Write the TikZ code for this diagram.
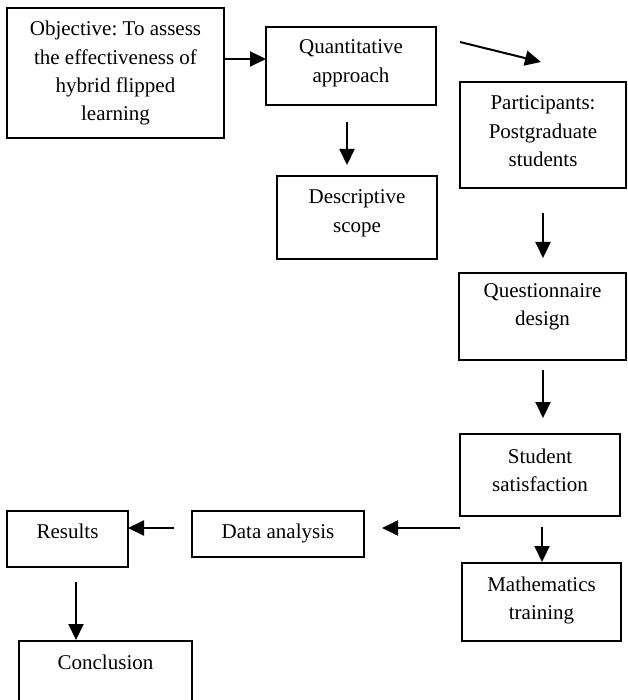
\documentclass[tikz,border=0pt]{standalone}
\usepackage{fontspec}
\setmainfont{Liberation Serif}
\usetikzlibrary{arrows.meta}
\frenchspacing

% box text: [first baseline]{width}{height}{lines}
\newcommand{\stg}[4][28pt]{\parbox[c][#3][t]{#2}{\fontsize{21}{28.3}\selectfont\centering\rule{0pt}{#1}#4}}

\tikzstyle{stage}=[draw,line width=1.2pt,inner sep=0pt,outer sep=0pt]
\tikzstyle{arrow}=[draw,line width=2pt,-{Triangle[length=16pt,width=15pt]}]

\begin{document}
\begin{tikzpicture}[x=1pt,y=-1pt]
	\useasboundingbox (0,0) rectangle (627,700);
			\node[stage] (obj) at (115.5,73) {\stg{217pt}{130pt}{Objective: To assess\\the effectiveness of\\hybrid flipped\\learning}};
			\node[stage] (quant) at (351,66) {\stg[27pt]{170pt}{78pt}{Quantitative\\approach}};
			\node[stage] (part) at (543,135) {\stg{166pt}{106pt}{Participants:\\Postgraduate\\students}};
			\node[stage] (desc) at (357,217.5) {\stg{160pt}{83pt}{Descriptive\\scope}};
			\node[stage] (quest) at (542.5,316.5) {\stg[24pt]{167pt}{87pt}{Questionnaire\\design}};
			\node[stage] (stud) at (540,475) {\stg[29pt]{160pt}{82pt}{Student\\satisfaction}};
			\node[stage] (math) at (541.5,602) {\stg{159pt}{78pt}{Mathematics\\training}};
			\node[stage] (data) at (278,534) {\stg[27pt]{172pt}{46pt}{Data analysis}};
			\node[stage] (res) at (67.5,539) {\stg[27pt]{121pt}{56pt}{Results}};
			\node[stage] (conc) at (105.5,676.5) {\stg{173pt}{71pt}{Conclusion}};
			% loose arrow towards the participants
			\coordinate (qa) at (460,42);
			\coordinate (qb) at (541,62);
			% Connect the boxes with arrows
			\path[arrow] ([yshift=14pt]obj.east) -- ([yshift=7pt]quant.west);
			\path[arrow] (qa) -- (qb);
			\path[arrow,shorten <=17pt,shorten >=11pt] ([xshift=-4pt]quant.south) -- ([xshift=-10pt]desc.north);
			\path[arrow,shorten <=25pt,shorten >=15pt] (part.south) -- ([xshift=0.5pt]quest.north);
			\path[arrow,shorten <=10pt,shorten >=16pt] ([xshift=0.5pt]quest.south) -- ([xshift=3pt]stud.north);
			\path[arrow,shorten <=11pt,shorten >=1pt] ([xshift=2pt]stud.south) -- ([xshift=0.5pt]math.north);
			\path[arrow,shorten >=18pt] ([yshift=-12pt]stud.south west) -- ([yshift=6pt]data.east);
			\path[arrow,shorten <=18pt] ([yshift=6pt]data.west) -- ([yshift=11pt]res.east);
			\path[arrow,shorten <=15pt,shorten >=1pt] ([xshift=8.5pt]res.south) -- ([xshift=-29.5pt]conc.north);
\end{tikzpicture}
\end{document}
